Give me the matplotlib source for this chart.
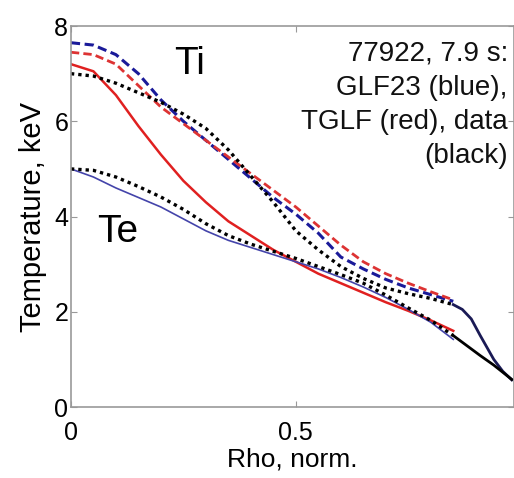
import numpy as np
import matplotlib
matplotlib.use("Agg")
import matplotlib.pyplot as plt

plt.rcParams['font.family'] = ['Liberation Sans', 'DejaVu Sans']

# Ti profiles
rho = [0.0, 0.05, 0.1, 0.15, 0.2, 0.25, 0.3, 0.35, 0.4, 0.45, 0.5, 0.55,
       0.6, 0.65, 0.7, 0.75, 0.8, 0.85]
rho_edge = [0.85, 0.87, 0.89, 0.91, 0.94, 0.96, 0.98]

ti_data = [7.0, 6.95, 6.8, 6.6, 6.4, 6.15, 5.85, 5.4, 4.85, 4.3, 3.7, 3.3,
           2.95, 2.7, 2.5, 2.38, 2.28, 2.15]
ti_data_edge = [2.15, 2.05, 1.85, 1.5, 1.0, 0.75, 0.57]
ti_glf23 = [7.65, 7.6, 7.4, 7.0, 6.45, 6.0, 5.6, 5.2, 4.8, 4.4, 4.05, 3.65,
            3.15, 2.9, 2.68, 2.5, 2.36, 2.22]
ti_tglf = [7.45, 7.4, 7.2, 6.75, 6.3, 5.95, 5.6, 5.25, 4.9, 4.55, 4.2, 3.8,
           3.4, 3.05, 2.8, 2.6, 2.42, 2.25]

# Te profiles
te_data = [5.0, 4.97, 4.83, 4.63, 4.41, 4.15, 3.85, 3.6, 3.42, 3.27, 3.12,
           2.95, 2.78, 2.6, 2.35, 2.08, 1.82, 1.5]
te_data_edge = [1.5, 1.36, 1.22, 1.08, 0.88, 0.73, 0.58]
te_glf23 = [5.0, 4.83, 4.6, 4.4, 4.2, 3.95, 3.7, 3.5, 3.35, 3.2, 3.05, 2.9,
            2.72, 2.52, 2.3, 2.05, 1.78, 1.42]
te_tglf = [7.2, 7.05, 6.55, 5.9, 5.3, 4.75, 4.3, 3.9, 3.6, 3.3, 3.05, 2.8,
           2.6, 2.4, 2.2, 2.02, 1.82, 1.6]

fig = plt.figure(figsize=(5.14, 4.78), dpi=100)
ax = fig.add_axes([0.138, 0.1485, 0.862, 0.797])

ax.plot(rho, ti_glf23, color='#1a1a99', lw=2.2, ls=(0, (3, 1.5)))
ax.plot(rho, ti_tglf, color='#dd3333', lw=2.0, ls=(0, (3, 1.5)))
ax.plot(rho, te_tglf, color='#e02020', lw=1.8)
ax.plot(rho, te_glf23, color='#4444aa', lw=1.2)
ax.plot(rho, ti_data, color='black', lw=2.4, ls=(0, (1, 1.2)))
ax.plot(rho, te_data, color='black', lw=2.4, ls=(0, (1, 1.2)))
ax.plot(rho_edge, ti_data_edge, color='#1a1a55', lw=2.0)
ax.plot(rho_edge, te_data_edge, color='black', lw=2.0)

ax.set_xlim(0, 0.985)
ax.set_ylim(0, 8)
ax.set_xticks([0, 0.5])
ax.set_xticklabels(['0', '0.5'])
ax.set_yticks([0, 2, 4, 6, 8])
ax.tick_params(direction='in', top=True, right=True, length=4, color='#999999',
               labelsize=18, pad=2)
ax.tick_params(axis='x', pad=10)
for s in ax.spines.values():
    s.set_color('#999999')
    s.set_linewidth(1.2)

ax.set_xlabel('Rho, norm.', fontsize=19, labelpad=2)
ax.set_ylabel('Temperature, keV', fontsize=21, labelpad=5)

ax.text(0.264, 7.2, 'Ti', fontsize=28, ha='center', va='center')
ax.text(0.104, 3.68, 'Te', fontsize=28, ha='center', va='center')
fig.text(0.988, 0.915, '77922, 7.9 s:\nGLF23 (blue),\nTGLF (red), data\n(black)',
         fontsize=20, ha='right', va='top', linespacing=1.4, color='#111111')

fig.savefig('out.png', dpi=100)
